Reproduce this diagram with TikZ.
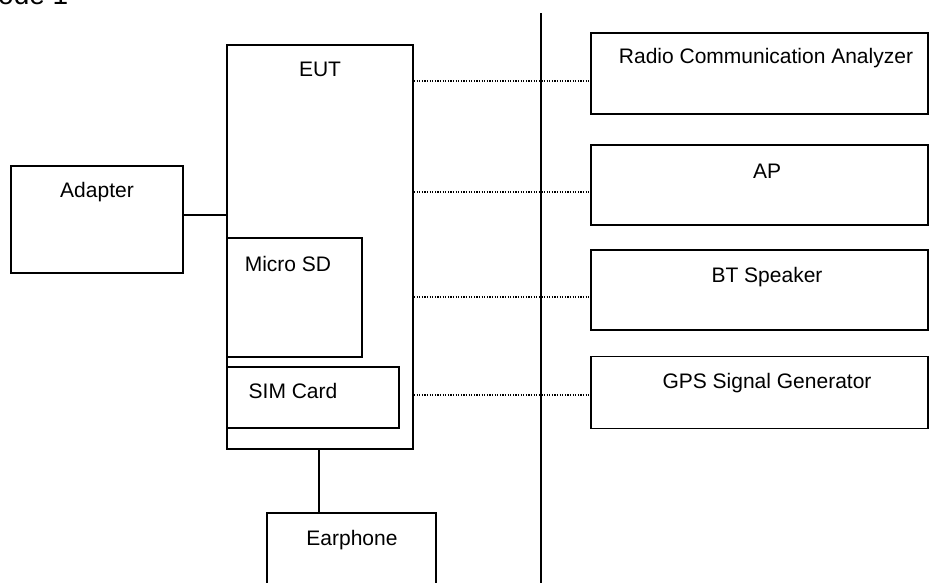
\documentclass[tikz,border=0pt]{standalone}
\usepackage{fontspec}
\setmainfont{Liberation Sans}
\begin{document}
\begin{tikzpicture}[x=1pt,y=-1pt,
  box/.style={draw,line width=1.9pt,inner sep=0pt},
  lbl/.style={anchor=base,inner sep=0pt,font=\fontsize{21}{25}\selectfont},
  wire/.style={line width=1.9pt},
  link/.style={line width=1.3pt,dash pattern=on 1.3pt off 1.3pt}]
\useasboundingbox (0,0) rectangle (929,582);
\node[anchor=base west,inner sep=0pt,font=\fontsize{28}{32}\selectfont] (mode) at (-2,4) {ode 1};
\node[box,minimum width=186pt,minimum height=404pt] (eut) at (320,247) {};
\node[box,minimum width=172pt,minimum height=107pt] (adapter) at (97,219.5) {};
\node[box,minimum width=135pt,minimum height=119pt] (microsd) at (294.5,297.5) {};
\node[box,minimum width=172pt,minimum height=61pt] (sim) at (313,397.5) {};
\node[box,minimum width=169pt,minimum height=97pt] (earphone) at (351.5,561.5) {};
\node[box,minimum width=337pt,minimum height=81pt] (rca) at (759.5,73.5) {};
\node[box,minimum width=337pt,minimum height=80pt] (ap) at (759.5,185) {};
\node[box,minimum width=337pt,minimum height=80pt] (bt) at (759.5,290) {};
\node[box,minimum width=337pt,minimum height=72pt] (gps) at (759.5,392.5) {};
\node[lbl] (eutlbl) at (320,76.5) {EUT};
\node[lbl] (adapterlbl) at (97,197) {Adapter};
\node[lbl] (microsdlbl) at (288,271) {Micro SD};
\node[lbl] (simlbl) at (293,398) {SIM Card};
\node[lbl] (earphonelbl) at (352,545) {Earphone};
\node[lbl] (rcalbl) at (766,63) {Radio Communication Analyzer};
\node[lbl] (aplbl) at (767,178) {AP};
\node[lbl] (btlbl) at (767,282) {BT Speaker};
\node[lbl] (gpslbl) at (767,388) {GPS Signal Generator};
\coordinate (divtop) at (541,13);
\coordinate (divbot) at (541,590);
\coordinate (adapterpin) at ([yshift=4.5pt]adapter.east);
\draw[wire] (divtop) -- (divbot);
\draw[wire] (adapterpin) -- (adapterpin -| eut.west);
\draw[wire] ([xshift=-0.7pt]eut.south) -- ([xshift=-0.7pt]eut.south |- earphone.north);
\foreach \dev/\dy in {rca/7.5,ap/7,bt/7,gps/2.5}
  \draw[link] ([yshift=-\dy pt]\dev.west -| eut.east) -- ([yshift=-\dy pt]\dev.west);
\end{tikzpicture}
\end{document}
